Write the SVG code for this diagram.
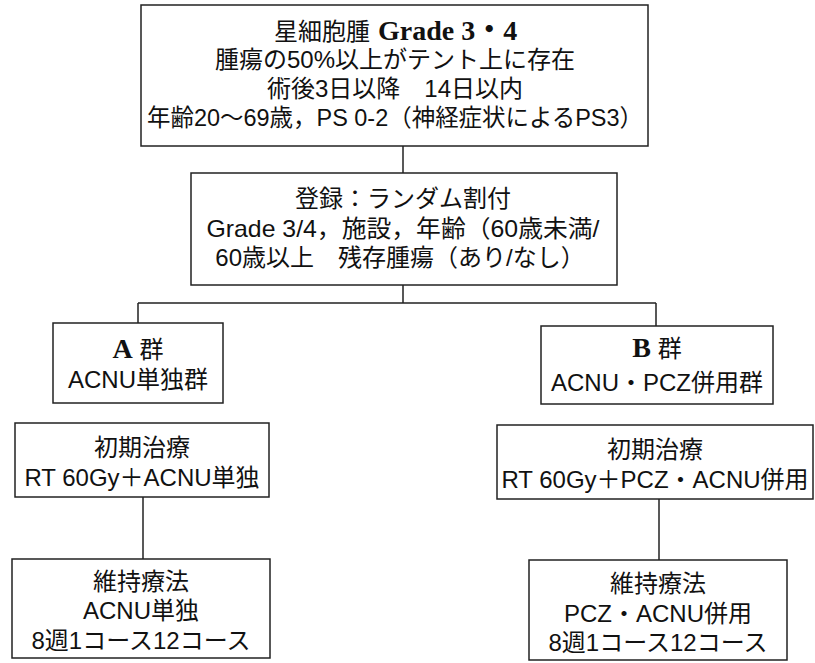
<svg xmlns="http://www.w3.org/2000/svg" width="815" height="663" viewBox="0 0 815 663">
<style>
.box{fill:#fff;stroke:#222;stroke-width:1.5}
.ln{fill:none;stroke:#222;stroke-width:1.5}
text{font-family:"Liberation Sans","Noto Sans CJK JP",sans-serif;font-size:24px;fill:#111;text-anchor:middle}
.sb{font-family:"Liberation Serif","Noto Sans CJK JP",serif;font-weight:bold;font-size:28px}
.st{text-anchor:start}
</style>
<rect width="815" height="663" fill="#fff"/>
<g id="connectors">
<path class="ln" d="M403 146V173"/>
<path class="ln" d="M403 285V303M138 303H656M138 303V323M656 303V326"/>
<path class="ln" d="M143 497V559"/>
<path class="ln" d="M659 499V560"/>
</g>
<g id="n1">
<rect class="box" x="141" y="5" width="507" height="141"/>
<text class="st" x="274" y="40" font-size="24.5">星細胞腫</text>
<text class="st sb" x="378" y="40">Grade 3・4</text>
<text x="395" y="68">腫瘍の50%以上がテント上に存在</text>
<text x="395" y="97">術後3日以降　14日以内</text>
<text x="395" y="126" textLength="496" lengthAdjust="spacingAndGlyphs" font-size="23.5">年齢20〜69歳，PS 0-2（神経症状によるPS3）</text>
</g>
<g id="n2">
<rect class="box" x="191" y="173" width="426" height="112"/>
<text x="403" y="207">登録：ランダム割付</text>
<text x="403" y="237" textLength="393" lengthAdjust="spacingAndGlyphs">Grade 3/4，施設，年齢（60歳未満/</text>
<text x="400" y="266">60歳以上　残存腫瘍（あり/なし）</text>
</g>
<g id="nA">
<rect class="box" x="53" y="323" width="170" height="80"/>
<text x="138" y="358"><tspan class="sb">A</tspan> 群</text>
<text x="138" y="388">ACNU単独群</text>
</g>
<g id="nB">
<rect class="box" x="541" y="326" width="232" height="78"/>
<text x="657" y="357"><tspan class="sb">B</tspan> 群</text>
<text x="657" y="391">ACNU・PCZ併用群</text>
</g>
<g id="nA1">
<rect class="box" x="15" y="423" width="254" height="74"/>
<text x="142" y="456">初期治療</text>
<text x="142" y="486">RT 60Gy＋ACNU単独</text>
</g>
<g id="nB1">
<rect class="box" x="497" y="425" width="316" height="74"/>
<text x="655" y="458">初期治療</text>
<text x="655" y="488">RT 60Gy＋PCZ・ACNU併用</text>
</g>
<g id="nA2">
<rect class="box" x="12" y="559" width="258" height="99"/>
<text x="141" y="590">維持療法</text>
<text x="141" y="619">ACNU単独</text>
<text x="141" y="649">8週1コース12コース</text>
</g>
<g id="nB2">
<rect class="box" x="529" y="560" width="258" height="100"/>
<text x="658" y="592">維持療法</text>
<text x="658" y="622">PCZ・ACNU併用</text>
<text x="658" y="651">8週1コース12コース</text>
</g>
</svg>
